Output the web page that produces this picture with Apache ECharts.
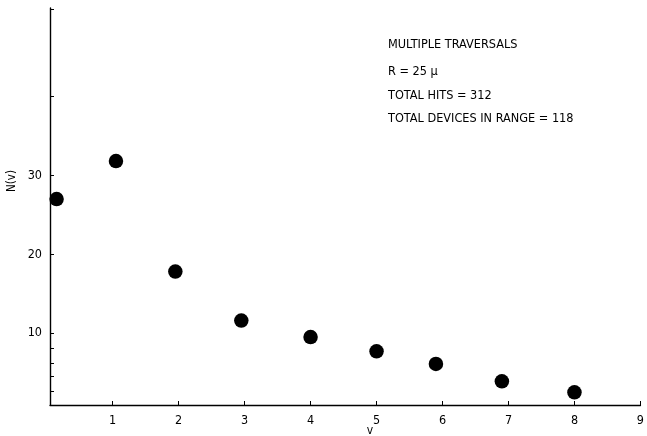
<!DOCTYPE html>
<html>
<head>
<meta charset="utf-8">
<script src="https://cdn.jsdelivr.net/npm/echarts@6/dist/echarts.min.js"></script>
<style>html,body{margin:0;padding:0;background:#fff}#c{width:647px;height:436px}</style>
</head>
<body>
<div id="c"></div>
<script>
var vValues = [0.15, 1.05, 1.95, 2.95, 4.0, 5.0, 5.9, 6.9, 8.0];
var nValues = [27.0, 31.8, 17.8, 11.6, 9.5, 7.7, 6.1, 3.9, 2.5];
var xTickValues = [1, 2, 3, 4, 5, 6, 7, 8, 9];
var yTickValues = [2.7, 4.6, 6.2, 8.1, 10, 20, 30, 40, 51];
var yLabelValues = [10, 20, 30];
var noteLines = ['MULTIPLE TRAVERSALS', 'R = 25 \u03bc', 'TOTAL HITS = 312', 'TOTAL DEVICES IN RANGE = 118'];

var FONT = '"DejaVu Sans Condensed", "Liberation Sans Narrow", "Liberation Sans", sans-serif';
var chart = echarts.init(document.getElementById('c'), null, {renderer: 'canvas'});
var pts = vValues.map(function (v, i) { return [v, nValues[i]]; });
var noteY = [45, 72, 96, 119];
chart.setOption({
  animation: false,
  backgroundColor: '#fff',
  grid: {left: 50, right: 2, top: 8, bottom: 31, containLabel: false},
  xAxis: {
    type: 'value', min: 0.05, max: 9,
    axisLine: {show: true, onZero: false, lineStyle: {color: '#000', width: 1.4}},
    axisTick: {show: true, inside: true, length: 4, customValues: xTickValues, lineStyle: {color: '#000'}},
    axisLabel: {show: true, customValues: xTickValues, color: '#000', fontFamily: FONT, fontSize: 12.5, margin: 9},
    splitLine: {show: false}
  },
  yAxis: {
    type: 'value', min: 0.9, max: 51.2,
    axisLine: {show: true, onZero: false, lineStyle: {color: '#000', width: 1.4}},
    axisTick: {show: true, inside: true, length: 4, customValues: yTickValues, lineStyle: {color: '#000'}},
    axisLabel: {show: true, customValues: yLabelValues, color: '#000', fontFamily: FONT, fontSize: 12.5, margin: 8},
    splitLine: {show: false}
  },
  series: [{
    type: 'scatter', data: pts, symbol: 'circle', symbolSize: 14.5,
    itemStyle: {color: '#000', opacity: 1, borderWidth: 0}, clip: false
  }],
  graphic: [
    {type: 'text', rotation: Math.PI / 2, x: 12, y: 181, style: {text: 'N(v)', fill: '#000', font: '11.5px ' + FONT, textAlign: 'center', textVerticalAlign: 'middle'}},
    {type: 'text', x: 370, y: 431, style: {text: 'v', fill: '#000', font: '12px ' + FONT, textAlign: 'center', textVerticalAlign: 'middle'}}
  ].concat(noteLines.map(function (t, i) {
    return {type: 'text', x: 388, y: noteY[i], style: {text: t, fill: '#000', font: '12.6px ' + FONT, textAlign: 'left', textVerticalAlign: 'middle'}};
  }))
});
</script>
</body>
</html>
